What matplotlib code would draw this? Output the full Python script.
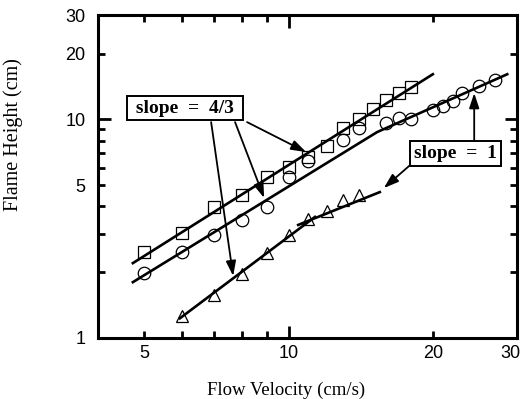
import numpy as np
import matplotlib
matplotlib.use("Agg")
import matplotlib.pyplot as plt
from matplotlib.ticker import FixedLocator, FuncFormatter

# measured points (flow velocity cm/s, flame height cm)
sq_x = [5, 6, 7, 8, 9, 10, 11, 12, 13, 14, 15, 16, 17, 18]
sq_y = [2.47, 3.02, 3.97, 4.51, 5.45, 6.05, 6.72, 7.55, 9.12, 10.0, 11.15, 12.25, 13.2, 14.05]

ci_x = [5, 6, 7, 8, 9, 10, 11, 13, 14, 16, 17, 18, 20, 21, 22, 23, 25, 27]
ci_y = [1.98, 2.47, 2.96, 3.46, 3.97, 5.45, 6.45, 8.04, 9.12, 9.62, 10.1, 10.0,
        11.0, 11.5, 12.1, 13.2, 14.2, 15.1]

tr_x = [6, 7, 8, 9, 10, 11, 12, 13, 14]
tr_y = [1.26, 1.57, 1.96, 2.45, 2.96, 3.50, 3.81, 4.28, 4.51]

# fitted lines (end points)
fit_sq_x = [4.73, 20.0]
fit_sq_y = [2.20, 16.1]
fit_ci_x = [4.73, 15.3, 28.6]
fit_ci_y = [1.80, 8.75, 16.1]
fit_tr1_x = [5.93, 11.35]
fit_tr1_y = [1.23, 3.58]
fit_tr2_x = [10.47, 15.5]
fit_tr2_y = [3.29, 4.65]

fig = plt.figure(figsize=(5.24, 3.99), dpi=100)
ax = fig.add_axes([0.187, 0.153, 0.8, 0.809])

ax.set_xscale("log")
ax.set_yscale("log")
ax.set_xlim(4, 30)
ax.set_ylim(1, 30)

lw_fit = 1.9
ax.plot(fit_sq_x, fit_sq_y, color="black", lw=lw_fit, zorder=2)
ax.plot(fit_ci_x, fit_ci_y, color="black", lw=lw_fit, zorder=2)
ax.plot(fit_tr1_x, fit_tr1_y, color="black", lw=lw_fit, zorder=2)
ax.plot(fit_tr2_x, fit_tr2_y, color="black", lw=lw_fit, zorder=2)

mk = dict(linestyle="none", markerfacecolor="none", markeredgecolor="black",
          markeredgewidth=0.9, zorder=3)
ax.plot(sq_x, sq_y, marker="s", markersize=8.5, **mk)
ax.plot(ci_x, ci_y, marker="o", markersize=9, **mk)
ax.plot(tr_x, tr_y, marker="^", markersize=8, **mk)

# annotations
box = dict(boxstyle="square,pad=0.2", facecolor="white", edgecolor="black", lw=1.4)
tfont = dict(family="Liberation Serif", fontweight="bold", fontsize=14)
ax.text(6.08, 11.27, " slope  =  4/3 ", ha="center", va="center", bbox=box, zorder=5, **tfont)
ax.text(22.3, 7.0, "slope  =  1", ha="center", va="center", bbox=box, zorder=5, **tfont)

arr = dict(arrowstyle="-|>,head_length=0.9,head_width=0.3", color="black",
           lw=1.3, shrinkA=0, shrinkB=0)
ax.annotate("", xy=(10.88, 7.09), xytext=(8.19, 9.72), arrowprops=arr)
ax.annotate("", xy=(8.89, 4.37), xytext=(7.73, 9.72), arrowprops=arr)
ax.annotate("", xy=(7.66, 1.92), xytext=(6.89, 9.72), arrowprops=arr)
ax.annotate("", xy=(24.4, 13.2), xytext=(24.4, 7.96), arrowprops=arr)
ax.annotate("", xy=(15.8, 4.85), xytext=(17.93, 6.18), arrowprops=arr)

# ticks
x_major = [10]
x_minor = [5, 6, 7, 8, 9, 20, 30]
x_labels = [5, 10, 20]
y_major = [1, 10]
y_minor = [2, 3, 4, 5, 6, 7, 8, 9, 20, 30]
y_labels = [1, 5, 10, 20, 30]

def lab(vals):
    return FuncFormatter(lambda v, p: str(int(round(v))) if int(round(v)) in vals else "")

ax.xaxis.set_major_locator(FixedLocator(x_major))
ax.xaxis.set_minor_locator(FixedLocator(x_minor))
ax.xaxis.set_major_formatter(lab(x_labels))
ax.xaxis.set_minor_formatter(lab(x_labels))
ax.yaxis.set_major_locator(FixedLocator(y_major))
ax.yaxis.set_minor_locator(FixedLocator(y_minor))
ax.yaxis.set_major_formatter(lab(y_labels))
ax.yaxis.set_minor_formatter(lab(y_labels))

for a in ("x", "y"):
    ax.tick_params(axis=a, which="both", direction="in", top=True, right=True,
                   width=2, labelsize=13, labelfontfamily="Liberation Sans")
ax.tick_params(which="major", length=9)
ax.tick_params(which="minor", length=5)
ax.tick_params(axis="x", which="both", pad=5)
ax.tick_params(axis="y", which="both", pad=9)

# last x label sits against the right edge of the figure
ax.annotate("30", xy=(30, 1), xytext=(-5, -5), textcoords="offset points",
            ha="center", va="top", fontsize=13, family="Liberation Sans",
            annotation_clip=False)

for s in ax.spines.values():
    s.set_linewidth(2.2)

ax.set_xlabel("Flow Velocity (cm/s)", family="Liberation Serif", fontsize=13.5)
ax.set_ylabel("Flame Height (cm)", family="Liberation Serif", fontsize=14.5)
ax.xaxis.set_label_coords(0.449, -0.135)
ax.yaxis.set_label_coords(-0.18, 0.63)

fig.savefig("out.png", dpi=100)
